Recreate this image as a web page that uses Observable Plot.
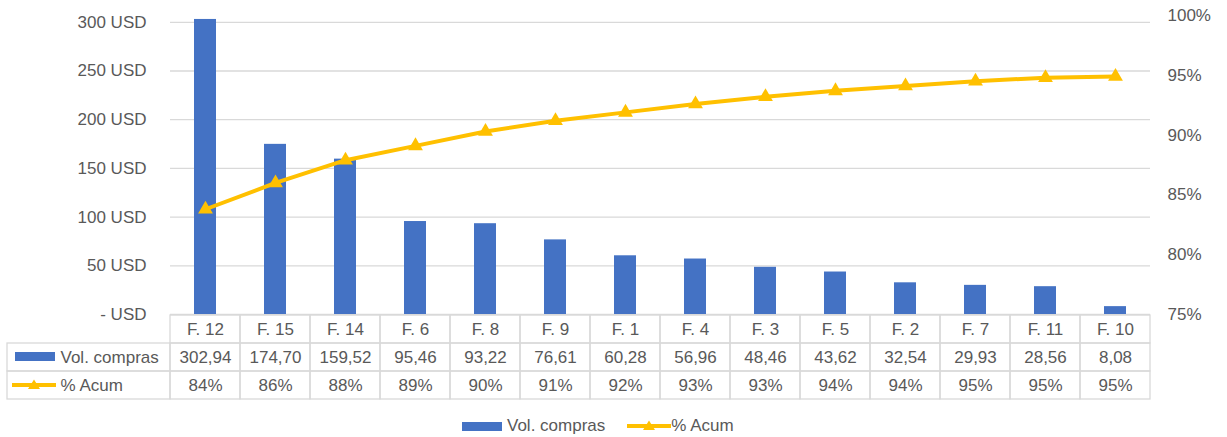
<!DOCTYPE html>
<html><head><meta charset="utf-8">
<script src="https://cdn.jsdelivr.net/npm/d3@7"></script>
<script src="https://cdn.jsdelivr.net/npm/@observablehq/plot@0.6"></script>
<style>
body{margin:0;background:#fff;font-family:"Liberation Sans",Arial,sans-serif;}
#wrap{position:relative;width:1227px;height:437px;overflow:hidden;}
#wrap > *{position:absolute;left:0;}
.lg{display:flex;align-items:center;font-size:17px;color:#595959;white-space:nowrap;}
</style></head><body><div id="wrap"></div>
<script>
const categories = ["F. 12","F. 15","F. 14","F. 6","F. 8","F. 9","F. 1","F. 4","F. 3","F. 5","F. 2","F. 7","F. 11","F. 10"];
const volCompras = [302.94,174.70,159.52,95.46,93.22,76.61,60.28,56.96,48.46,43.62,32.54,29.93,28.56,8.08];
const pctAcum = [83.8,86.0,87.9,89.1,90.3,91.2,91.9,92.6,93.2,93.7,94.1,94.5,94.8,94.9];
const volLabels = ["302,94","174,70","159,52","95,46","93,22","76,61","60,28","56,96","48,46","43,62","32,54","29,93","28,56","8,08"];
const pctLabels = ["84%","86%","88%","89%","90%","91%","92%","93%","93%","94%","94%","95%","95%","95%"];
const leftTicks = [0,50,100,150,200,250,300];
const rightTicks = [75,80,85,90,95,100];
const seriesNames = ["Vol. compras","% Acum"];

const BLUE = "#4472C4", GOLD = "#FFC000", TXT = "#595959", GRID = "#d9d9d9";
const FONT = '"Liberation Sans", Arial, sans-serif';
const Y_MAX = 307, P_MIN = 75, P_MAX = 100;
const toLeft = p => (p - P_MIN) / (P_MAX - P_MIN) * Y_MAX;

const rows = categories.map((c, i) => ({cat: c, vol: volCompras[i], pct: pctAcum[i], volL: volLabels[i], pctL: pctLabels[i], i}));

const wrap = document.getElementById("wrap");

const main = Plot.plot({
  width: 1227, height: 315, marginTop: 15, marginBottom: 1, marginLeft: 170, marginRight: 77,
  style: {fontFamily: FONT, fontSize: "17px", color: TXT, background: "transparent", overflow: "visible"},
  x: {domain: categories, paddingInner: 0.686, paddingOuter: 0.343, axis: null},
  y: {domain: [0, Y_MAX], axis: null},
  marks: [
    Plot.ruleY(leftTicks, {stroke: GRID, strokeWidth: 1.3}),
    Plot.axisY(leftTicks, {anchor: "left", label: null, tickSize: 0, tickPadding: 24, fill: TXT, fontSize: 17,
      tickFormat: d => d === 0 ? "- USD" : d + " USD"}),
    Plot.axisY(rightTicks.map(toLeft), {anchor: "right", label: null, tickSize: 0, tickPadding: 17, fill: TXT, fontSize: 17,
      tickFormat: d => Math.round(P_MIN + d / Y_MAX * (P_MAX - P_MIN)) + "%"}),
    Plot.barY(rows, {x: "cat", y: "vol", fill: BLUE}),
    Plot.line(rows, {x: "cat", y: d => toLeft(d.pct), stroke: GOLD, strokeWidth: 4}),
    Plot.dot(rows, {x: "cat", y: d => toLeft(d.pct), symbol: "triangle", r: 5.5, fill: GOLD})
  ]
});
main.style.top = "0px";
wrap.appendChild(main);

// data table below the chart
const HEAD = 163 / 70;
const cells = [];
rows.forEach(d => [0, 1, 2].forEach(r => cells.push({x1: d.i, x2: d.i + 1, y1: r, y2: r + 1})));
[1, 2].forEach(r => cells.push({x1: -HEAD, x2: 0, y1: r, y2: r + 1}));

const table = Plot.plot({
  width: 1227, height: 88, marginTop: 1, marginBottom: 3, marginLeft: 7, marginRight: 77,
  style: {fontFamily: FONT, fontSize: "17px", color: TXT, background: "transparent", overflow: "visible"},
  x: {domain: [-HEAD, categories.length], axis: null},
  y: {domain: [0, 3], reverse: true, axis: null},
  marks: [
    Plot.rect(cells, {x1: "x1", x2: "x2", y1: "y1", y2: "y2", fill: "none", stroke: GRID, strokeWidth: 1.3}),
    Plot.text(rows, {x: d => d.i + 0.5, y: 0.5, text: "cat", fill: TXT, fontSize: 17}),
    Plot.text(rows, {x: d => d.i + 0.5, y: 1.5, text: "volL", fill: TXT, fontSize: 17}),
    Plot.text(rows, {x: d => d.i + 0.5, y: 2.5, text: "pctL", fill: TXT, fontSize: 17}),
    Plot.text(seriesNames, {x: -HEAD, y: (d, i) => i + 1.5, text: d => d, dx: 53, textAnchor: "start", fill: TXT, fontSize: 17})
  ]
});
table.style.top = "314px";
wrap.appendChild(table);

function swatch(kind) {
  const ns = "http://www.w3.org/2000/svg";
  const s = document.createElementNS(ns, "svg");
  if (kind === "bar") {
    s.setAttribute("width", 40); s.setAttribute("height", 9);
    s.innerHTML = `<rect x="0" y="0" width="40" height="9" fill="${BLUE}"/>`;
  } else {
    s.setAttribute("width", 44); s.setAttribute("height", 12);
    s.innerHTML = `<line x1="0" y1="6" x2="44" y2="6" stroke="${GOLD}" stroke-width="4"/>` +
      `<path d="M22,0.5 L28,10 L16,10 Z" fill="${GOLD}"/>`;
  }
  return s;
}

// header swatches in the table
const hs1 = swatch("bar"); hs1.style.position = "absolute"; hs1.style.left = "15px"; hs1.style.top = "352px"; wrap.appendChild(hs1);
const hs2 = swatch("line"); hs2.style.position = "absolute"; hs2.style.left = "12px"; hs2.style.top = "379px"; wrap.appendChild(hs2);

// legend
const lg = document.createElement("div");
lg.className = "lg";
lg.style.top = "415px"; lg.style.left = "462px"; lg.style.height = "22px";
const l1 = swatch("bar"); l1.style.marginRight = "5px";
const t1 = document.createElement("span"); t1.textContent = seriesNames[0]; t1.style.marginRight = "22px";
const l2 = swatch("line");
const t2 = document.createElement("span"); t2.textContent = seriesNames[1];
lg.append(l1, t1, l2, t2);
wrap.appendChild(lg);
</script></body></html>
